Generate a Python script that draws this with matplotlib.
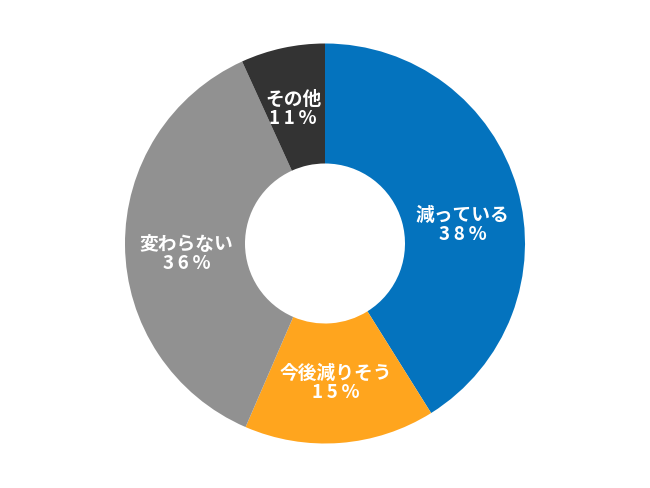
import matplotlib
matplotlib.use("Agg")
import matplotlib.pyplot as plt
import numpy as np

# wedge sizes as drawn, and the labels printed on them
categories = ["減っている", "今後減りそう", "変わらない", "その他"]
sizes = [41.1, 15.4, 36.7, 6.8]
pct_labels = ["38%", "15%", "36%", "11%"]
colors = ["#0473BE", "#FFA51E", "#919191", "#333333"]
# small nudges (degrees) of each label away from the wedge middle
label_shift = [8, 0, -3.5, -1]

plt.rcParams['font.family'] = ['Noto Sans CJK JP', 'DejaVu Sans']

fig = plt.figure(figsize=(6.5, 4.89), dpi=100)
ax = fig.add_axes([0, 0, 1, 1])

wedges, _ = ax.pie(sizes, colors=colors, startangle=90, counterclock=False,
                   radius=1.0, wedgeprops=dict(width=0.6, linewidth=0))

for w, cat, pct, sh in zip(wedges, categories, pct_labels, label_shift):
    mid = np.deg2rad((w.theta1 + w.theta2) / 2 - sh)
    r = 0.695
    x, y = r * np.cos(mid), r * np.sin(mid)
    spaced = "\u2009".join(pct)
    ax.text(x, y, cat + "\n" + spaced, ha="center", va="center",
            color="white", fontsize=13.5, fontweight="bold", linespacing=1.0)

ax.set_aspect("equal")
ax.set_xlim(-1.625, 1.625)
ax.set_ylim(-1.2225, 1.2225)
ax.axis("off")

fig.savefig("out.png", dpi=100, facecolor="white")
